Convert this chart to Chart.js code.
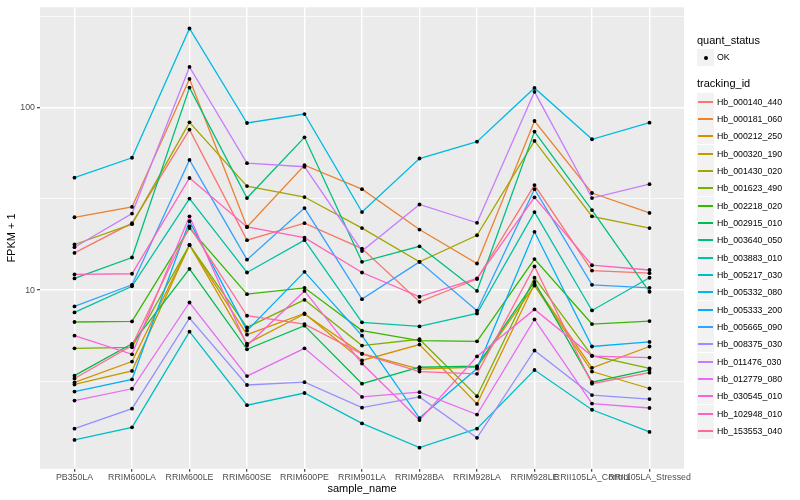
<!DOCTYPE html>
<html>
<head>
<meta charset="utf-8">
<script src="https://cdn.jsdelivr.net/npm/chart.js@4.4.1/dist/chart.umd.min.js"></script>
<style>
  body { margin: 0; background: #fff; }
  #wrap { position: relative; width: 800px; height: 500px; font-family: "Liberation Sans", Arial, Helvetica, sans-serif; }
  #wrap canvas { position: absolute; left: 0; top: 0; }
  .ttl { position: absolute; left: 697px; font-size: 11px; line-height: 13px; color: #000; white-space: nowrap; }
  .key { position: absolute; left: 697px; width: 17px; height: 17px; background: #F2F2F2; }
  .lab { position: absolute; left: 717px; font-size: 8.8px; line-height: 10px; color: #000; white-space: nowrap; }
</style>
</head>
<body>
<div id="wrap">
  <canvas id="line_graph" width="800" height="500"></canvas>
  <div id="legend"></div>
</div>
<script>
// samples on the x axis
var sample_names = ["PB350LA", "RRIM600LA", "RRIM600LE", "RRIM600SE", "RRIM600PE", "RRIM901LA",
  "RRIM928BA", "RRIM928LA", "RRIM928LE", "RRII105LA_Control", "RRII105LA_Stressed"];

var tracking_ids = ["Hb_000140_440", "Hb_000181_060", "Hb_000212_250", "Hb_000320_190", "Hb_001430_020",
  "Hb_001623_490", "Hb_002218_020", "Hb_002915_010", "Hb_003640_050", "Hb_003883_010",
  "Hb_005217_030", "Hb_005332_080", "Hb_005333_200", "Hb_005665_090", "Hb_008375_030",
  "Hb_011476_030", "Hb_012779_080", "Hb_030545_010", "Hb_102948_010", "Hb_153553_040"];

// FPKM + 1 per sample
var hb_000140_440 = [16.0, 23.3, 75.9, 18.8, 23.3, 16.9, 8.63, 11.5, 37.7, 12.8, 12.4];
var hb_000181_060 = [25.1, 28.6, 143.9, 22.2, 48.4, 35.8, 21.5, 14.0, 84.6, 34.1, 26.5];
var hb_000212_250 = [3.12, 4.06, 17.7, 5.70, 7.45, 4.12, 5.03, 2.38, 10.8, 3.75, 4.91];
var hb_000320_190 = [3.04, 3.61, 17.7, 5.09, 7.40, 4.49, 3.69, 3.79, 10.6, 3.58, 2.89];
var hb_001430_020 = [17.8, 23.0, 83.2, 37.2, 32.4, 21.9, 14.3, 20.0, 65.8, 25.4, 21.9];
var hb_001623_490 = [4.80, 4.86, 17.7, 6.25, 8.85, 4.97, 5.38, 2.62, 11.7, 4.38, 3.73];
var hb_002218_020 = [6.69, 6.74, 21.9, 9.51, 10.3, 6.00, 5.29, 5.24, 14.8, 6.52, 6.77];
var hb_002915_010 = [3.40, 5.08, 13.1, 4.74, 6.39, 3.07, 3.78, 3.83, 11.1, 3.13, 3.66];
var hb_003640_050 = [11.6, 15.1, 129.0, 32.0, 68.9, 14.3, 17.4, 9.9, 74.0, 27.5, 9.8];
var hb_003883_010 = [7.55, 10.5, 31.8, 12.5, 18.8, 6.66, 6.33, 7.45, 26.8, 7.74, 11.7];
var hb_005217_030 = [1.51, 1.77, 5.92, 2.34, 2.73, 1.86, 1.37, 1.74, 3.65, 2.21, 1.67];
var hb_005332_080 = [41.4, 53.2, 272, 82.5, 92.4, 26.8, 52.7, 65.2, 128.5, 67.2, 82.8];
var hb_005333_200 = [2.78, 3.24, 23.9, 6.00, 12.6, 5.63, 1.99, 3.72, 20.9, 4.91, 5.20];
var hb_005665_090 = [8.14, 10.7, 51.8, 14.7, 28.2, 8.93, 14.3, 7.71, 35.8, 10.7, 10.3];
var hb_008375_030 = [1.74, 2.24, 7.03, 3.02, 3.13, 2.27, 2.60, 1.55, 4.67, 2.66, 2.53];
var hb_011476_030 = [17.2, 26.3, 167.4, 49.7, 47.5, 16.4, 29.5, 23.4, 122.3, 32.0, 38.1];
var hb_012779_080 = [2.48, 2.88, 8.56, 3.38, 4.80, 2.60, 2.76, 2.08, 6.91, 2.39, 2.26];
var hb_030545_010 = [5.63, 4.45, 25.4, 4.97, 9.9, 3.96, 1.94, 4.33, 7.84, 4.35, 4.27];
var hb_102948_010 = [12.2, 12.3, 41.2, 22.2, 19.4, 12.5, 9.2, 11.6, 32.3, 13.7, 12.9];
var hb_153553_040 = [3.28, 4.97, 22.4, 7.24, 6.52, 4.47, 3.58, 3.48, 13.5, 3.07, 3.53];

var series_values = [hb_000140_440, hb_000181_060, hb_000212_250, hb_000320_190, hb_001430_020,
  hb_001623_490, hb_002218_020, hb_002915_010, hb_003640_050, hb_003883_010,
  hb_005217_030, hb_005332_080, hb_005333_200, hb_005665_090, hb_008375_030,
  hb_011476_030, hb_012779_080, hb_030545_010, hb_102948_010, hb_153553_040];

// y ticks (log scale); only 10 and 100 get labels
var y_ticks = [3.1623, 10, 31.623, 100, 316.23];
var y_labels = ["", "10", "", "100", ""];

// ggplot hue palette for 20 groups
var line_colors = ["#F8766D", "#EA8331", "#D89000", "#C09B00", "#A3A500", "#7CAE00", "#39B600", "#00BB4E",
  "#00BF7D", "#00C1A3", "#00BFC4", "#00BAE0", "#00B0F6", "#35A2FF", "#9590FF", "#C77CFF",
  "#E76BF3", "#FA62DB", "#FF62BC", "#FF6C91"];

var datasets = [];
for (var s = 0; s < series_values.length; s++) {
  var pts = series_values[s].map(function(v, i) { return {x: i, y: v}; });
  datasets.push({
    label: tracking_ids[s],
    data: pts,
    borderColor: line_colors[s],
    borderWidth: 1.3,
    pointRadius: 0,
    fill: false,
    tension: 0,
    order: 100 - s
  });
  // black dots go on top of every line
  datasets.push({
    label: tracking_ids[s] + " OK",
    data: pts,
    showLine: false,
    pointRadius: 1.9,
    pointBackgroundColor: "#000",
    pointBorderWidth: 0,
    order: 0
  });
}

function isMajorY(ctx) {
  return ctx.tick && (ctx.tick.value === 10 || ctx.tick.value === 100);
}

var panelBg = {
  id: "panelBg",
  beforeDraw: function(chart) {
    var a = chart.chartArea, c = chart.ctx;
    c.save();
    c.fillStyle = "#EBEBEB";
    c.fillRect(a.left, a.top, a.right - a.left, a.bottom - a.top);
    c.restore();
  }
};

var ctx = document.getElementById("line_graph");
var line_graph = new Chart(ctx, {
  type: "line",
  data: { datasets: datasets },
  plugins: [panelBg],
  options: {
    responsive: false,
    animation: false,
    events: [],
    layout: { padding: { top: 5, right: 116, left: 0, bottom: 0 } },
    plugins: { legend: { display: false }, tooltip: { enabled: false } },
    scales: {
      x: {
        type: "linear",
        min: -0.6,
        max: 10.6,
        afterBuildTicks: function(scale) {
          scale.ticks = sample_names.map(function(n, i) { return {value: i}; });
        },
        afterFit: function(scale) { scale.height = 31.3; },
        ticks: {
          autoSkip: false, maxRotation: 0, minRotation: 0, padding: 1,
          color: "#4D4D4D",
          font: { family: "'Liberation Sans', Arial, sans-serif", size: 8.8 },
          callback: function(v) { return sample_names[v] !== undefined ? sample_names[v] : ""; }
        },
        grid: { color: "#FFFFFF", lineWidth: 1.4, tickColor: "#333333", tickLength: 3, tickWidth: 1.1 },
        border: { display: false },
        title: {
          display: true, text: "sample_name", color: "#000",
          font: { family: "'Liberation Sans', Arial, sans-serif", size: 11 },
          padding: { top: 0, bottom: 4 }
        }
      },
      y: {
        type: "logarithmic",
        min: 1.05,
        max: 355.6,
        afterBuildTicks: function(scale) {
          scale.ticks = y_ticks.map(function(v) { return {value: v}; });
        },
        afterFit: function(scale) { scale.width = 40; },
        ticks: {
          padding: 2,
          color: "#4D4D4D",
          font: { family: "'Liberation Sans', Arial, sans-serif", size: 8.8 },
          callback: function(v, i) { return y_labels[i]; }
        },
        grid: {
          color: "#FFFFFF",
          lineWidth: function(c) { return isMajorY(c) ? 1.4 : 0.7; },
          tickColor: function(c) { return isMajorY(c) ? "#333333" : "rgba(0,0,0,0)"; },
          tickLength: 3,
          tickWidth: 1.1
        },
        border: { display: false },
        title: {
          display: true, text: "FPKM + 1", color: "#000",
          font: { family: "'Liberation Sans', Arial, sans-serif", size: 11 },
          padding: { top: 5, bottom: 0 }
        }
      }
    }
  }
});

// legend drawn as html next to the panel
var legend = document.getElementById("legend");
var html = '<div class="ttl" style="top:34px">quant_status</div>';
html += '<div class="key" style="top:49px"><div style="position:absolute;left:6.5px;top:6.5px;width:4px;height:4px;border-radius:2px;background:#000"></div></div>';
html += '<div class="lab" style="top:52px">OK</div>';
html += '<div class="ttl" style="top:77px">tracking_id</div>';
for (var k = 0; k < tracking_ids.length; k++) {
  var key_top = Math.round(92.7 + 17.33 * k);
  html += '<div class="key" style="top:' + key_top + 'px"><div style="position:absolute;left:1px;top:8px;width:15px;height:1.5px;background:' + line_colors[k] + '"></div></div>';
  html += '<div class="lab" style="top:' + (key_top + 4) + 'px">' + tracking_ids[k] + '</div>';
}
legend.innerHTML = html;
</script>
</body>
</html>
